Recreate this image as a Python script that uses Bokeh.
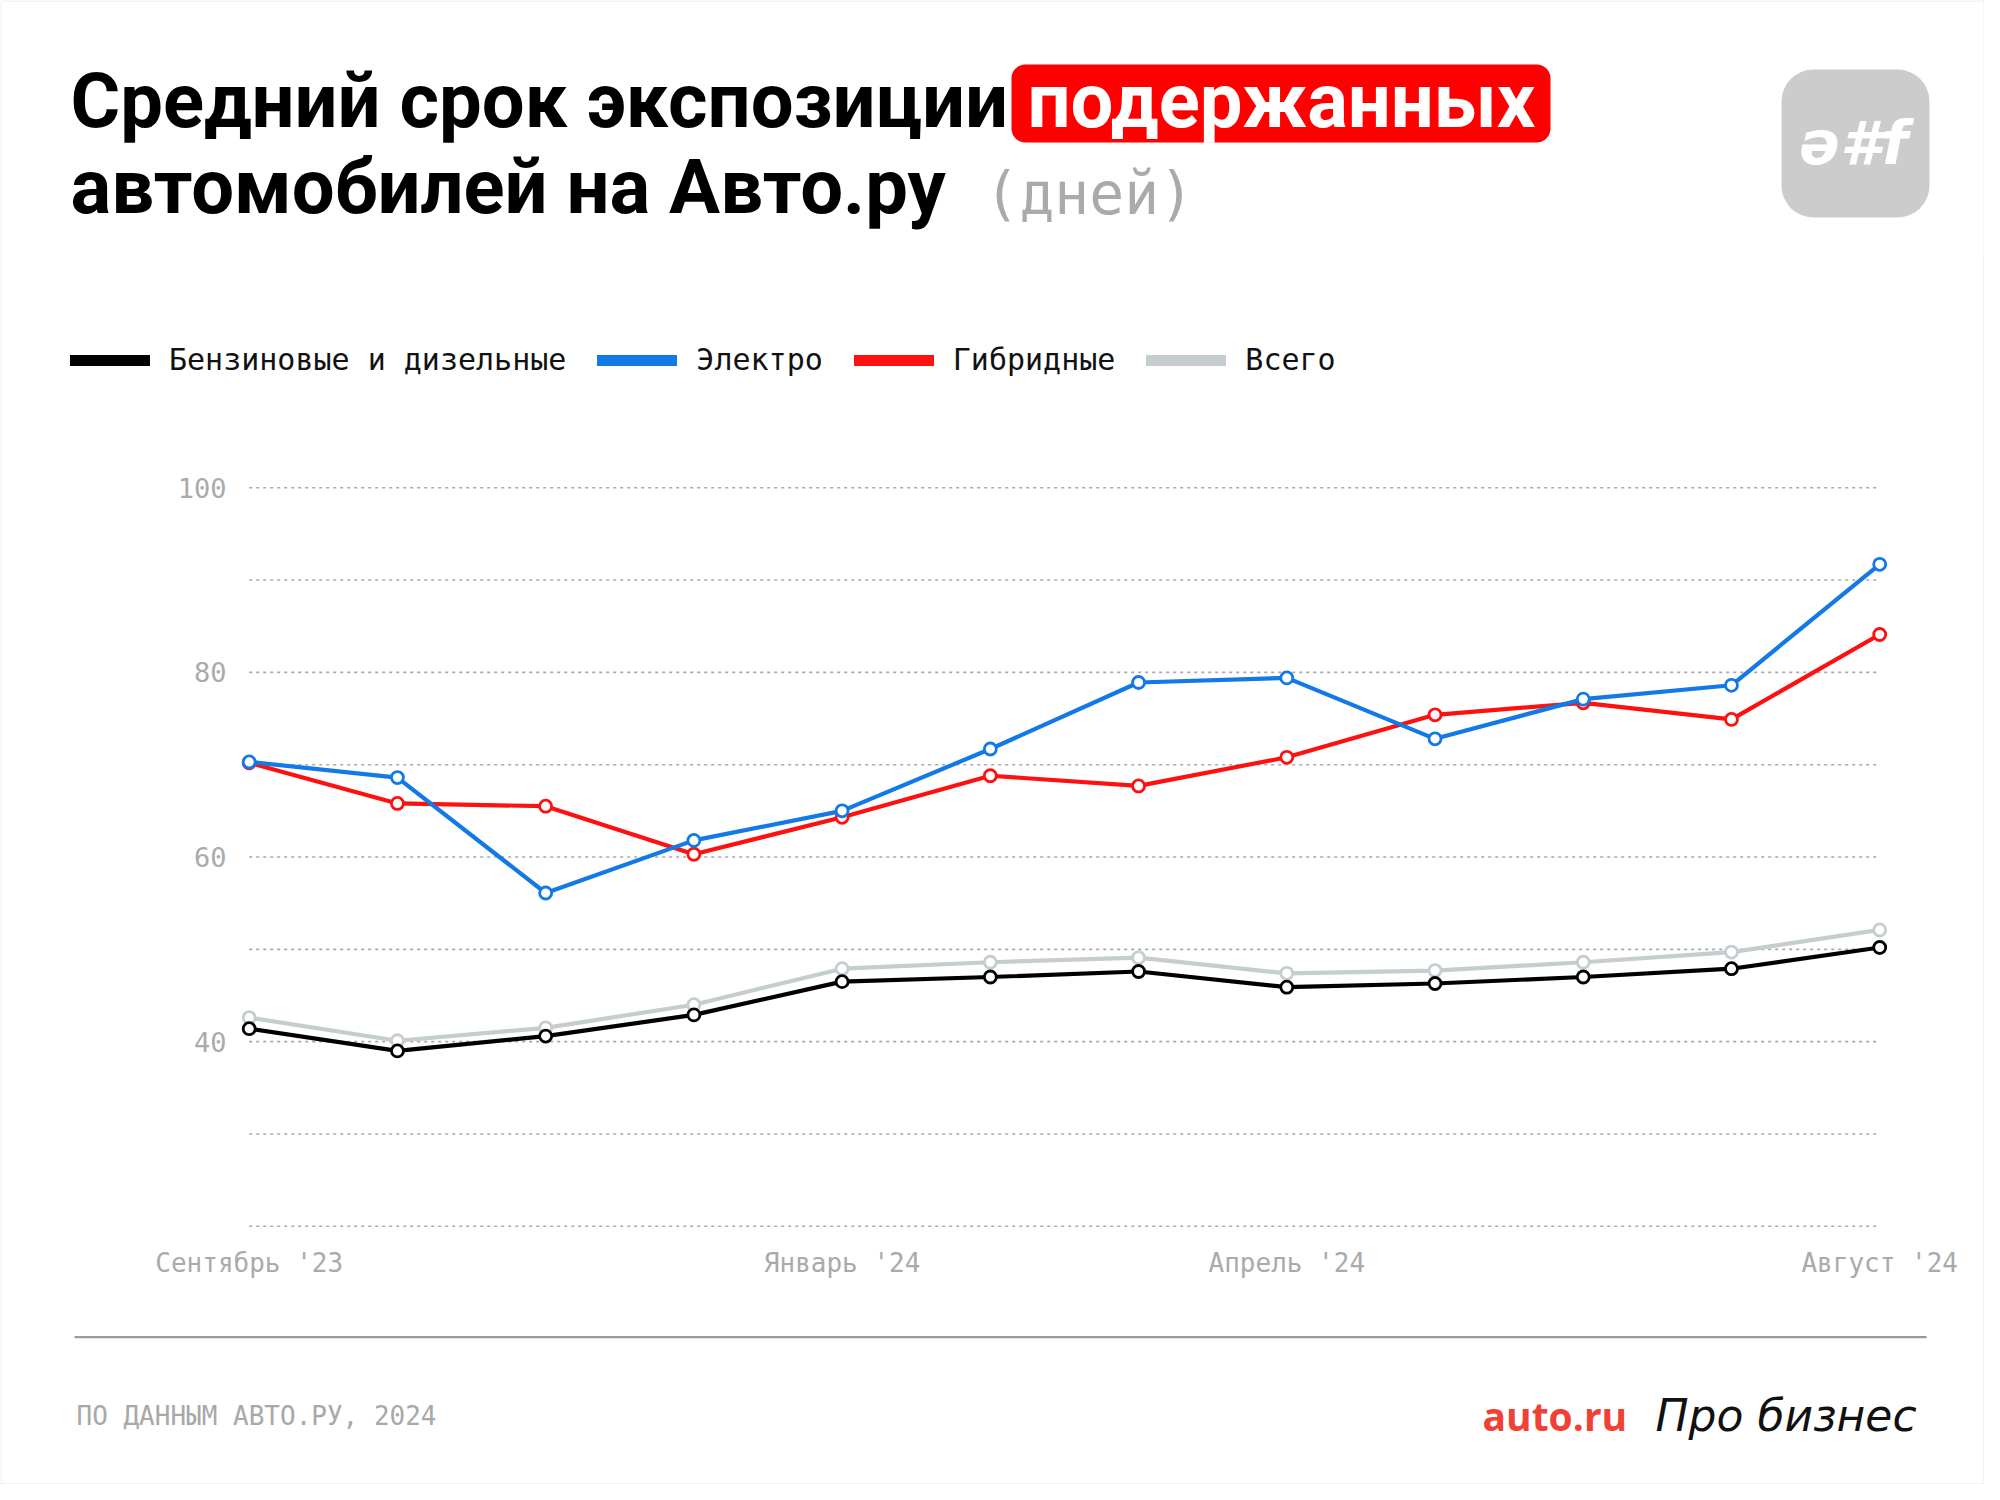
from bokeh.plotting import figure
from bokeh.models import (Label, BoxAnnotation, Legend, LegendItem, FixedTicker, Range1d)
from bokeh.embed import file_html
from bokeh.resources import INLINE

# ---------------- data ----------------
months = ["Сен '23", "Окт '23", "Ноя '23", "Дек '23", "Янв '24", "Фев '24",
          "Мар '24", "Апр '24", "Май '24", "Июн '24", "Июл '24", "Авг '24"]
petrol_diesel = [41.4, 39.0, 40.6, 42.9, 46.5, 47.0, 47.6, 45.9, 46.3, 47.0, 47.9, 50.2]
electro = [70.3, 68.6, 56.1, 61.8, 65.0, 71.7, 78.9, 79.4, 72.8, 77.1, 78.6, 91.7]
hybrid = [70.2, 65.8, 65.5, 60.3, 64.3, 68.8, 67.7, 70.8, 75.4, 76.7, 74.9, 84.1]
total = [42.6, 40.1, 41.5, 44.0, 47.9, 48.6, 49.1, 47.4, 47.7, 48.6, 49.7, 52.1]

series_names = ["Бензиновые и дизельные", "Электро", "Гибридные", "Всего"]
y_ticks = [40, 60, 80, 100]
grid_values = [20, 30, 40, 50, 60, 70, 80, 90, 100]
x_tick_labels = {0: "Сентябрь '23", 4: "Январь '24", 7: "Апрель '24", 11: "Август '24"}

title_line1 = "Средний срок экспозиции"
title_highlight = "подержанных"
title_line2 = "автомобилей на Авто.ру"
title_unit = "(дней)"
source_note = "ПО ДАННЫМ АВТО.РУ, 2024"

BLACK = "#000000"
BLUE = "#1279e6"
RED = "#ff1010"
GRAY = "#c5cdd0"
MONO = "DejaVu Sans Mono"
SANS = "Roboto"
colors = {"Бензиновые и дизельные": BLACK, "Электро": BLUE, "Гибридные": RED, "Всего": GRAY}
data = {"Бензиновые и дизельные": petrol_diesel, "Электро": electro,
        "Гибридные": hybrid, "Всего": total}

# ---------------- layout (canvas pixels) ----------------
W, H = 1984, 1484
PX_FIRST, PX_LAST = 248.7, 1879.2      # canvas x of first / last month
PY_TOP, PY_BOT = 487.2, 1225.8         # canvas y of 100 / 20
xs = list(range(len(months)))
px_per_month = (PX_LAST - PX_FIRST) / (xs[-1] - xs[0])
px_per_unit = (PY_BOT - PY_TOP) / (grid_values[-1] - grid_values[0])
x_start = xs[0] - PX_FIRST / px_per_month
x_end = xs[-1] + (W - PX_LAST) / px_per_month
y_end = grid_values[-1] + PY_TOP / px_per_unit
y_start = grid_values[0] - (H - PY_BOT) / px_per_unit

p = figure(width=W, height=H, output_backend="svg", toolbar_location=None,
           x_range=Range1d(x_start, x_end), y_range=Range1d(y_start, y_end),
           min_border=0)
p.outline_line_color = None
p.background_fill_color = "white"
p.border_fill_color = "white"
p.xgrid.visible = False
p.ygrid.visible = False


def lab(x, y, text, **kw):
    p.add_layout(Label(x=x, y=H - y, x_units="screen", y_units="screen", text=text, **kw))


def box(l, r, t, b, **kw):
    p.add_layout(BoxAnnotation(left=l, right=r, top=H - t, bottom=H - b,
                               left_units="screen", right_units="screen",
                               top_units="screen", bottom_units="screen", **kw))


# grid lines
p.segment(x0=[xs[0]] * len(grid_values), x1=[xs[-1]] * len(grid_values),
          y0=grid_values, y1=grid_values, line_color="#a9a9a9", line_width=1.6,
          line_dash="3 4")

# axes (labels pulled inside the canvas with negative standoff)
p.yaxis.ticker = FixedTicker(ticks=y_ticks)
p.yaxis.axis_line_color = None
p.yaxis.major_tick_line_color = None
p.yaxis.minor_tick_line_color = None
p.yaxis.major_tick_out = 0
p.yaxis.major_tick_in = 0
p.yaxis.major_label_text_font = MONO
p.yaxis.major_label_text_font_size = "27px"
p.yaxis.major_label_text_color = "#aaaaaa"
p.yaxis.major_label_standoff = -226

p.xaxis.ticker = FixedTicker(ticks=list(x_tick_labels.keys()))
p.xaxis.major_label_overrides = x_tick_labels
p.xaxis.axis_line_color = None
p.xaxis.major_tick_line_color = None
p.xaxis.minor_tick_line_color = None
p.xaxis.major_tick_out = 0
p.xaxis.major_tick_in = 0
p.xaxis.major_label_text_font = MONO
p.xaxis.major_label_text_font_size = "26px"
p.xaxis.major_label_text_color = "#aaaaaa"
p.xaxis.major_label_standoff = -237

# series
for name in ["Всего", "Бензиновые и дизельные", "Гибридные", "Электро"]:
    c = colors[name]
    p.line(xs, data[name], line_color=c, line_width=4.2)
    p.scatter(xs, data[name], marker="circle", size=12, fill_color="white",
              line_color=c, line_width=2.8)

# legend with thick swatches
items = []
for name in series_names:
    r = p.line(x=[float("nan")], y=[float("nan")], line_color=colors[name],
               line_width=11, line_cap="round")
    items.append(LegendItem(label=name, renderers=[r], index=0))
legend = Legend(items=items, orientation="horizontal", location=(70, H - 379.7),
                glyph_width=80, glyph_height=40, label_height=40, label_standoff=19,
                spacing=31, padding=0, margin=0, border_line_color=None,
                background_fill_alpha=0, label_text_font=MONO,
                label_text_font_size="30px", label_text_color="#111111")
p.add_layout(legend)

# title
lab(70, 100.7, title_line1, text_font=SANS, text_font_style="bold",
    text_font_size="76px", text_color="#000000", text_baseline="middle")
box(1011, 1550, 64, 142, fill_color="#ff0000", fill_alpha=1, line_color=None,
    border_radius=14)
lab(1027, 100.7, title_highlight, text_font=SANS, text_font_style="bold",
    text_font_size="76px", text_color="white", text_baseline="middle")
lab(70, 186, title_line2, text_font=SANS, text_font_style="bold",
    text_font_size="76px", text_color="#000000", text_baseline="middle")
lab(984, 193, title_unit, text_font=MONO, text_font_size="58px",
    text_color="#aaaaaa", text_baseline="middle")

# logo
box(1781, 1929, 69, 217, fill_color="#cccccc", fill_alpha=1, line_color=None,
    border_radius=32)
lab(1853, 142, "ə#f", text_font="DejaVu Sans", text_font_style="bold italic",
    text_font_size="60px", text_color="white", text_align="center", text_baseline="middle")

# separator
box(74, 1926, 1335.5, 1337.8, fill_color="#9a9a9a", fill_alpha=1, line_color=None)

# footer
lab(76, 1415.8, source_note, text_font=MONO, text_font_size="26px",
    text_color="#a8a8a8", text_baseline="middle")
lab(1482, 1414.5, "auto.ru", text_font="Open Sans", text_font_style="bold",
    text_font_size="39px", text_color="#ef4136", text_baseline="middle")
lab(1655, 1414.5, "Про бизнес", text_font="DejaVu Sans", text_font_style="italic",
    text_font_size="44px", text_color="#111111", text_baseline="middle")

# outer border
box(0.5, W - 0.5, 0.5, H - 0.5, fill_alpha=0, line_color="#d0d0d0", line_width=1.5)

open("out.html", "w").write(file_html(p, INLINE))
